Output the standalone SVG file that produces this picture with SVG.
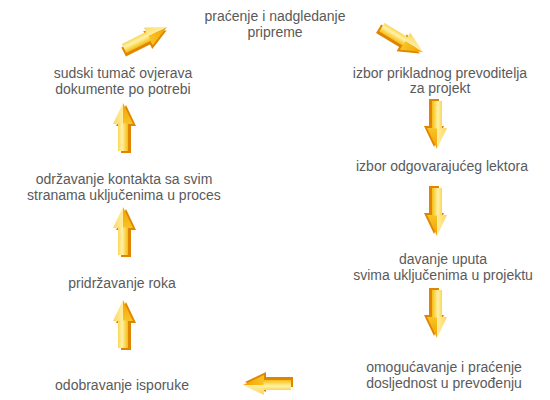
<svg xmlns="http://www.w3.org/2000/svg" xmlns:xlink="http://www.w3.org/1999/xlink" width="550" height="400" viewBox="0 0 550 400">
<style>
.lbl{font-family:"Liberation Sans",Arial,Helvetica,sans-serif;font-size:14px;fill:#5a5a5a;text-anchor:middle}
</style>
<defs>
<linearGradient id="shaftG" x1="0" y1="0" x2="1" y2="0">
<stop offset="0" stop-color="#fbd556"/>
<stop offset="0.4" stop-color="#fff3a8"/>
<stop offset="1" stop-color="#f6bd10"/>
</linearGradient>
<linearGradient id="headL" x1="0" y1="0" x2="1" y2="0">
<stop offset="0" stop-color="#fcd760"/>
<stop offset="1" stop-color="#ffeea0"/>
</linearGradient>
<linearGradient id="headR" x1="0" y1="0" x2="0" y2="1">
<stop offset="0" stop-color="#f2a000"/>
<stop offset="1" stop-color="#f8c425"/>
</linearGradient>
<g id="arrow">
<polygon points="3,2 13,23 8,23 8,50 -2,50 -2,23 -7,23" fill="#e08500"/>
<polygon points="0,0 0,21 -10,21" fill="url(#headL)"/>
<polygon points="0,0 10,21 0,21" fill="url(#headR)"/>
<rect x="-5" y="20.5" width="10" height="27.5" fill="url(#shaftG)"/>
</g>
</defs>
<g id="connectors">
<use xlink:href="#arrow" transform="translate(437,149) rotate(180)"/>
<use xlink:href="#arrow" transform="translate(437,236) rotate(180)"/>
<use xlink:href="#arrow" transform="translate(437,338) rotate(180)"/>
<use xlink:href="#arrow" transform="translate(243,385) rotate(-90)"/>
<use xlink:href="#arrow" transform="translate(123,300)"/>
<use xlink:href="#arrow" transform="translate(123,207)"/>
<use xlink:href="#arrow" transform="translate(123,103)"/>
<use xlink:href="#arrow" transform="translate(167,27) rotate(63.4)"/>
<use xlink:href="#arrow" transform="translate(423,52) rotate(121)"/>
</g>
<g id="n1"><text class="lbl" x="275" y="21">praćenje i nadgledanje</text><text class="lbl" x="275" y="37">pripreme</text></g>
<g id="n2"><text class="lbl" x="440" y="78">izbor prikladnog prevoditelja</text><text class="lbl" x="440" y="93">za projekt</text></g>
<g id="n3"><text class="lbl" x="442" y="171">izbor odgovarajućeg lektora</text></g>
<g id="n4"><text class="lbl" x="443" y="264">davanje uputa</text><text class="lbl" x="443" y="280">svima uključenima u projektu</text></g>
<g id="n5"><text class="lbl" x="444" y="372">omogućavanje i praćenje</text><text class="lbl" x="444" y="388">dosljednost u prevođenju</text></g>
<g id="n6"><text class="lbl" x="122" y="390">odobravanje isporuke</text></g>
<g id="n7"><text class="lbl" x="122" y="288">pridržavanje roka</text></g>
<g id="n8"><text class="lbl" x="124" y="184">održavanje kontakta sa svim</text><text class="lbl" x="124" y="200">stranama uključenima u proces</text></g>
<g id="n9"><text class="lbl" x="123" y="78">sudski tumač ovjerava</text><text class="lbl" x="123" y="94">dokumente po potrebi</text></g>
</svg>
